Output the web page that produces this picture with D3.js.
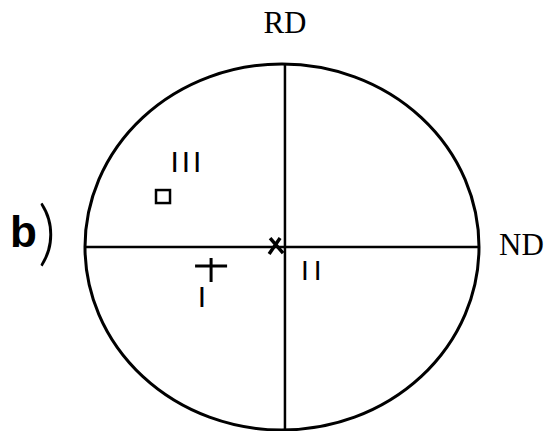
<!DOCTYPE html>
<head>
  <meta charset="UTF-8" />
  <title>Pole figure b)</title>
  <style>
    body { margin: 0; background: #fff; }
    svg { display: block; }
  </style>
</head>
<body>
  <svg width="546" height="431"></svg>
</body>

<script src="https://cdn.jsdelivr.net/npm/d3@7"></script>
<script>
  // Pole positions (unit circle coords: +x = ND, +y = RD)
  const poleNames = ["I", "II", "III"];
  const poleX = [-0.36, -0.03, -0.604];
  const poleY = [-0.104, 0.005, 0.273];
  const poleSymbols = ["plus", "cross", "square"];
  // where the roman-numeral labels sit
  const labelX = [-0.406, 0.161, -0.48];
  const labelY = [-0.328, -0.18, 0.41];
  const labelSizes = [30, 28, 30];
  const labelSpacing = [0, 5, 3];
  const axisNames = ["RD", "ND"];
  const rdAxisX = 0.015; // RD line sits a touch right of the centre

  const svg = d3.select("svg");

  const x = d3.scaleLinear().domain([-1, 1]).range([85, 479]);
  const y = d3.scaleLinear().domain([-1, 1]).range([430, 64]);

  // outer circle
  svg.append("ellipse")
    .attr("cx", x(0))
    .attr("cy", y(0))
    .attr("rx", x(1) - x(0))
    .attr("ry", y(-1) - y(0))
    .attr("fill", "none")
    .attr("stroke", "#000")
    .attr("stroke-width", 3);

  // RD and ND lines
  svg.append("line")
    .attr("x1", x(rdAxisX)).attr("x2", x(rdAxisX))
    .attr("y1", y(1)).attr("y2", y(-1))
    .attr("stroke", "#000").attr("stroke-width", 2.5);

  svg.append("line")
    .attr("x1", x(-1)).attr("x2", x(1))
    .attr("y1", y(0)).attr("y2", y(0))
    .attr("stroke", "#000").attr("stroke-width", 2.5);

  // axis names
  svg.append("text")
    .attr("x", x(rdAxisX))
    .attr("y", 33)
    .attr("text-anchor", "middle")
    .attr("font-family", "Liberation Serif, Times New Roman, serif")
    .attr("font-size", 31)
    .text(axisNames[0]);

  svg.append("text")
    .attr("x", 499)
    .attr("y", 255)
    .attr("font-family", "Liberation Serif, Times New Roman, serif")
    .attr("font-size", 31)
    .text(axisNames[1]);

  // panel letter: bold b plus a thin, tall bracket
  const tag = svg.append("text")
    .attr("x", 10)
    .attr("y", 247);
  tag.append("tspan")
    .attr("font-family", "Liberation Sans, Arial, sans-serif")
    .attr("font-weight", "bold")
    .attr("font-size", 44)
    .text("b");
  tag.append("tspan")
    .attr("font-family", "Lato, Roboto, sans-serif")
    .attr("font-weight", 300)
    .attr("font-size", 70)
    .attr("dx", 1)
    .attr("dy", 10)
    .text(")");

  // pole markers
  const poles = poleNames.map((n, i) => ({
    name: n, x: poleX[i], y: poleY[i], sym: poleSymbols[i],
    lx: labelX[i], ly: labelY[i], size: labelSizes[i], ls: labelSpacing[i]
  }));

  const g = svg.append("g")
    .attr("fill", "none")
    .attr("stroke", "#000")
    .attr("stroke-width", 3);

  poles.forEach(p => {
    const cx = x(p.x), cy = y(p.y);
    if (p.sym === "square") {
      g.append("rect")
        .attr("x", cx - 7).attr("y", cy - 7)
        .attr("width", 14).attr("height", 13)
        .attr("stroke-width", 2.5);
    } else if (p.sym === "plus") {
      g.append("path")
        .attr("d", `M${cx - 16},${cy}H${cx + 16}M${cx},${cy - 8}V${cy + 16}`);
    } else {
      g.append("path")
        .attr("d", `M${cx - 6},${cy - 8}L${cx + 7},${cy + 7}M${cx - 7},${cy + 8}L${cx + 4},${cy - 8}`)
        .attr("stroke-width", 3.5);
    }
  });

  svg.selectAll(".pole-label")
    .data(poles)
    .join("text")
    .attr("class", "pole-label")
    .attr("x", d => x(d.lx))
    .attr("y", d => y(d.ly))
    .attr("text-anchor", "middle")
    .attr("font-family", "Liberation Sans, Arial, sans-serif")
    .attr("font-size", d => d.size)
    .attr("letter-spacing", d => d.ls)
    .text(d => d.name);
</script>
